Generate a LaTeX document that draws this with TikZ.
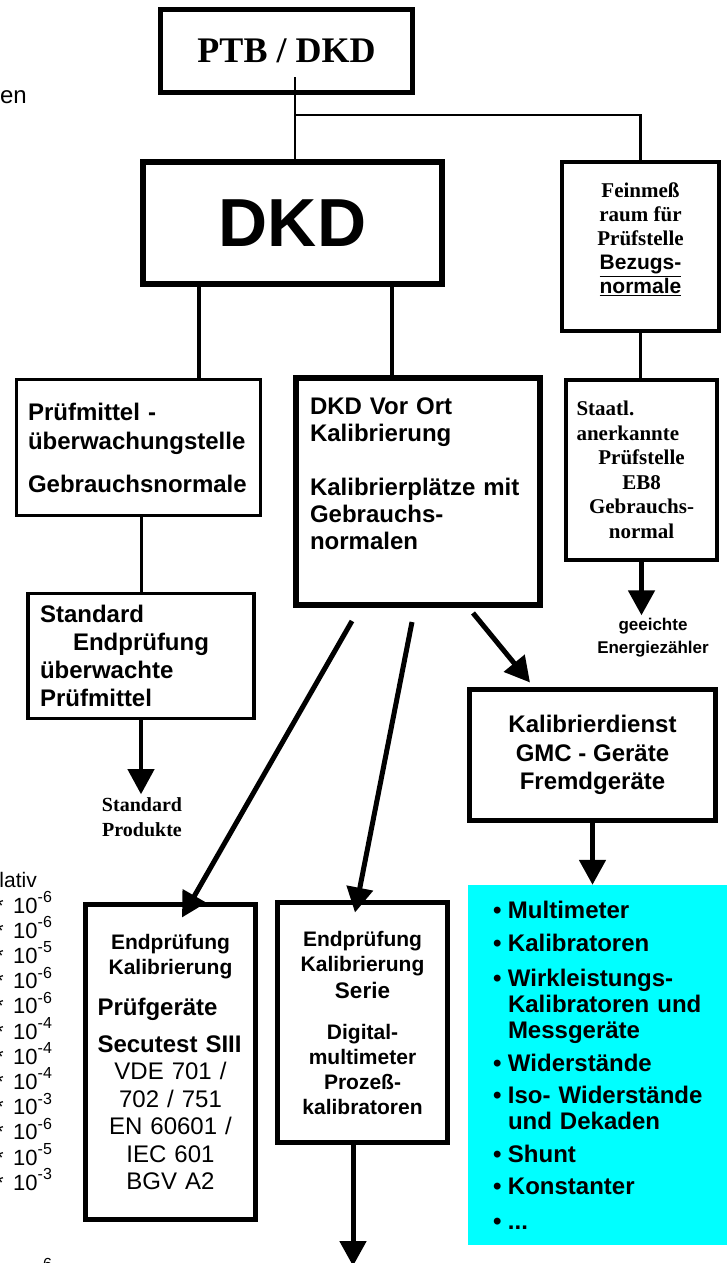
\documentclass[tikz,border=0pt]{standalone}
\usepackage{fontspec}
\setmainfont{Liberation Sans}
\newfontfamily\tms{Liberation Serif}
\usetikzlibrary{arrows.meta}
\definecolor{aqua}{RGB}{0,255,255}

\newcommand{\fsz}[2]{\fontsize{#1}{#2}\selectfont}
\newcommand{\itm}{\makebox[15pt][l]{\textbullet}}
\newcommand{\cnt}{\hspace*{15pt}}
\newcommand{\ex}[1]{\raisebox{10.5pt}{\fsz{16}{16}#1}}

\begin{document}
\begin{tikzpicture}[x=1pt,y=-1pt,
    box/.style={draw, line width=#1, inner sep=0pt},
    link/.style={line width=#1},
    arr/.style={line width=5pt, -{Triangle[length=25pt,width=26pt]}}]
  \useasboundingbox (0,0) rectangle (726,1263);

  % cut-off texts at the left edge
  \node[anchor=east, inner sep=0pt, font=\fsz{24}{28}] (en) at (27,97) {en};
  \node[anchor=base east, inner sep=0pt, font=\fsz{21}{25}] (rel) at (37,887) {lativ};
  \foreach \e [count=\i from 0] in {-6,-6,-5,-6,-6,-4,-4,-4,-3,-6,-5,-3}
    \node[anchor=base west, inner sep=0pt, font=\fsz{22}{25}] (f\i) at (-5,913+25.2*\i) {*\hspace{9.5pt}10\ex{\e}};
  \node[anchor=base west, inner sep=0pt, font=\fsz{22}{25}] (flast) at (-5,1280) {*\hspace{9.5pt}10\ex{-6}};

  % top
  \node[box=5pt, minimum width=252pt, minimum height=83pt, font=\tms\bfseries\fsz{36}{40}] (ptb) at (286.5,51) {PTB / DKD};
  \node[box=6pt, minimum width=299pt, minimum height=122pt, font=\bfseries\fsz{68}{70}] (dkd) at (292.5,223) {DKD};
  \node[box=4pt, minimum width=157pt, minimum height=169pt, align=center, font=\tms\bfseries\fsz{21}{24}] (feinmess) at (640.5,246.5)
    {Feinmeß\\raum für\\Prüfstelle\\{\rmfamily\underline{Bezugs-}}\\{\rmfamily\underline{normale}}\\[-8pt]\mbox{}};
  \node[box=4pt, minimum width=151pt, minimum height=180pt, text width=130pt, align=center, font=\tms\bfseries\fsz{21}{24.5}] (staatl) at (641.5,470)
    {\makebox[\linewidth][l]{Staatl.}\\\makebox[\linewidth][l]{anerkannte}\\Prüfstelle\\EB8\\Gebrauchs-\\normal};
  \node[align=center, inner sep=3pt, font=\bfseries\fsz{17}{23}] (geeicht) at (653,638) {geeichte\\Energiezähler};

  % middle
  \node[box=3pt, minimum width=244pt, minimum height=136pt, text width=221pt, align=left, font=\bfseries\fsz{24}{29}] (pruefmittel) at (138.5,447.5)
    {Prüfmittel -\\überwachungstelle\\[14pt]Gebrauchsnormale};
  \node[box=6pt, minimum width=244pt, minimum height=227pt, text width=216pt, align=left, font=\bfseries\fsz{24}{27}] (vorort) at (418,491.5)
    {DKD Vor Ort\\Kalibrierung\\[27pt]Kalibrierplätze mit\\Gebrauchs-\\normalen\\[9pt]\mbox{}};
  \node[box=3.5pt, minimum width=226pt, minimum height=125pt, text width=202pt, align=left, font=\bfseries\fsz{24}{28}] (standard) at (141,656)
    {Standard\\\hspace*{33pt}Endprüfung\\überwachte\\Prüfmittel};
  \node[align=center, inner sep=3pt, font=\tms\bfseries\fsz{20}{25}] (produkte) at (142,817) {Standard\\Produkte};
  \node[box=5pt, minimum width=246pt, minimum height=131pt, align=center, font=\bfseries\fsz{24}{28.5}] (kaldienst) at (592.5,755)
    {Kalibrierdienst\\GMC - Geräte\\Fremdgeräte};

  % bottom
  \node[box=5pt, minimum width=170pt, minimum height=315pt, text width=150pt, align=center, font=\fsz{24}{27.5}] (endpruef) at (170.5,1062)
    {{\bfseries\fsz{21}{25}Endprüfung\\[-2.5pt]Kalibrierung}\\[13.5pt]
     \makebox[\linewidth][l]{\bfseries\hspace*{2pt}Prüfgeräte}\\[9.5pt]
     \makebox[\linewidth][l]{\bfseries\hspace*{2pt}Secutest SIII}\\
     VDE 701 /\\702 / 751\\EN 60601 /\\IEC 601\\BGV A2};
  \node[box=5pt, minimum width=170pt, minimum height=240pt, align=center, font=\bfseries\fsz{21}{25}] (serie) at (362.5,1022.5)
    {Endprüfung\\Kalibrierung\\[2pt]{\fsz{22.5}{25}Serie}\\[16pt]Digital-\\multimeter\\Prozeß-\\kalibratoren};
  \node[fill=aqua, inner sep=0pt, minimum width=262pt, minimum height=360pt, text width=212pt, align=left, font=\bfseries\fsz{24}{26}] (liste) at (599,1065)
    {\itm Multimeter\\[7pt]\itm Kalibratoren\\[9pt]\itm Wirkleistungs-\\\cnt Kalibratoren und\\\cnt Messgeräte\\[7pt]
     \itm Widerstände\\[6pt]\itm Iso- Widerstände\\\cnt und Dekaden\\[7pt]\itm Shunt\\[6pt]\itm Konstanter\\[9pt]\itm ...};
  \coordinate (ende) at (353,1266);

  % connectors
  \coordinate (split) at (295,115);
  \draw[link=2pt] ([yshift=18pt]ptb.south -| split) -- (dkd.north -| split);
  \draw[link=2.5pt] (split) -| (feinmess.north);
  \draw[link=3.5pt] ([xshift=-93.5pt]dkd.south) -- ([xshift=-93.5pt]dkd.south |- pruefmittel.north);
  \draw[link=4pt] ([xshift=99.5pt]dkd.south) -- ([xshift=99.5pt]dkd.south |- vorort.north);
  \draw[link=3pt] (feinmess.south) -- (feinmess.south |- staatl.north);
  \draw[link=3pt] (standard.north |- pruefmittel.south) -- (standard.north);
  \draw[arr] (staatl.south) -- (staatl.south |- geeicht.north);
  \draw[arr, line width=4pt] (standard.south) -- (standard.south |- produkte.north);
  \draw[arr] ([shift={(55,5)}]vorort.south) -- ([shift={(-62.5,-4.5)}]kaldienst.north);
  \draw[arr] ([shift={(-66,13)}]vorort.south) -- ([shift={(11.5,15.5)}]endpruef.north);
  \draw[arr] ([shift={(-6,14)}]vorort.south) -- ([shift={(-7.5,12.5)}]serie.north);
  \draw[arr] (kaldienst.south) -- (kaldienst.south |- liste.north);
  \draw[arr] ([shift={(-9.5,29.5)}]serie.south) -- (serie.south -| ende) -- (ende);
\end{tikzpicture}
\end{document}
